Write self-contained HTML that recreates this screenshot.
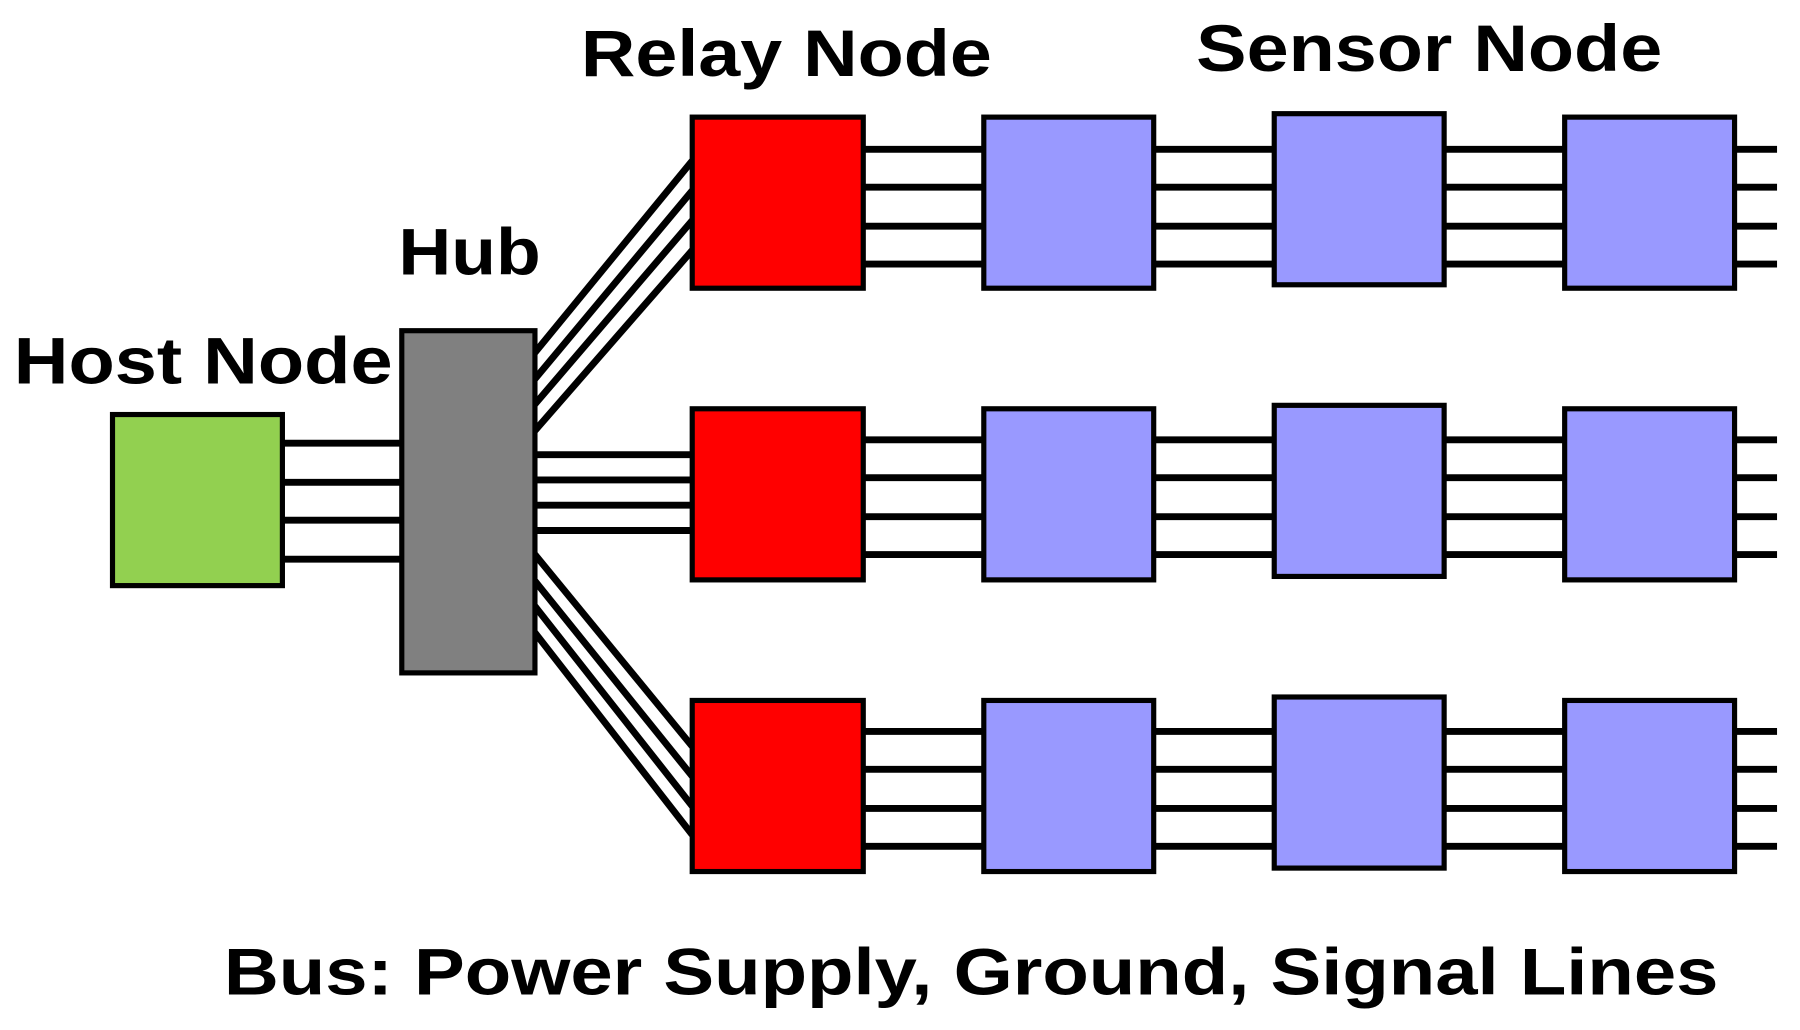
<!DOCTYPE html>
<html><head><meta charset="utf-8"><style>html,body{margin:0;padding:0;background:#fff;}svg{display:block}</style></head>
<body>
<svg width="1800" height="1030" viewBox="0 0 1568 897" preserveAspectRatio="none" xmlns="http://www.w3.org/2000/svg">
<g stroke="#000" stroke-width="6" fill="none">
<line x1="246" y1="386" x2="350" y2="386"/><line x1="246" y1="420" x2="350" y2="420"/><line x1="246" y1="453" x2="350" y2="453"/><line x1="246" y1="487" x2="350" y2="487"/>
<line x1="466" y1="307" x2="603" y2="140"/><line x1="466" y1="330" x2="603" y2="166"/><line x1="466" y1="352" x2="603" y2="192"/><line x1="466" y1="375" x2="603" y2="218"/>
<line x1="466" y1="396" x2="603" y2="396"/><line x1="466" y1="418" x2="603" y2="418"/><line x1="466" y1="440" x2="603" y2="440"/><line x1="466" y1="462" x2="603" y2="462"/>
<line x1="466" y1="483" x2="603" y2="650"/><line x1="466" y1="506" x2="603" y2="676"/><line x1="466" y1="528" x2="603" y2="702"/><line x1="466" y1="551" x2="603" y2="727"/>
<g><line x1="752" y1="130" x2="1548" y2="130"/><line x1="752" y1="163" x2="1548" y2="163"/><line x1="752" y1="197" x2="1548" y2="197"/><line x1="752" y1="230" x2="1548" y2="230"/></g>
<g transform="translate(0,253)"><line x1="752" y1="130" x2="1548" y2="130"/><line x1="752" y1="163" x2="1548" y2="163"/><line x1="752" y1="197" x2="1548" y2="197"/><line x1="752" y1="230" x2="1548" y2="230"/></g>
<g transform="translate(0,507)"><line x1="752" y1="130" x2="1548" y2="130"/><line x1="752" y1="163" x2="1548" y2="163"/><line x1="752" y1="197" x2="1548" y2="197"/><line x1="752" y1="230" x2="1548" y2="230"/></g>
</g>
<g stroke="#000" stroke-width="4.5">
<rect x="98" y="361" width="148" height="149" fill="#92d050"/>
<rect x="350" y="288" width="116" height="298" fill="#808080"/>
<rect x="603" y="102" width="149" height="149" fill="#ff0000"/>
<rect x="603" y="356" width="149" height="149" fill="#ff0000"/>
<rect x="603" y="610" width="149" height="149" fill="#ff0000"/>
<rect x="857" y="102" width="148" height="149" fill="#9999ff"/>
<rect x="1110" y="99" width="148" height="149" fill="#9999ff"/>
<rect x="1363" y="102" width="148" height="149" fill="#9999ff"/>
<rect x="857" y="356" width="148" height="149" fill="#9999ff"/>
<rect x="1110" y="353" width="148" height="149" fill="#9999ff"/>
<rect x="1363" y="356" width="148" height="149" fill="#9999ff"/>
<rect x="857" y="610" width="148" height="149" fill="#9999ff"/>
<rect x="1110" y="607" width="148" height="149" fill="#9999ff"/>
<rect x="1363" y="610" width="148" height="149" fill="#9999ff"/>
</g>
<g font-family="Liberation Sans, Arial, sans-serif" font-weight="bold" font-size="57" fill="#000">
<text x="506" y="66" textLength="358" lengthAdjust="spacingAndGlyphs">Relay Node</text>
<text x="1042" y="62" textLength="406" lengthAdjust="spacingAndGlyphs">Sensor Node</text>
<text x="347" y="239" textLength="124" lengthAdjust="spacingAndGlyphs">Hub</text>
<text x="12" y="334" textLength="330" lengthAdjust="spacingAndGlyphs">Host Node</text>
<text x="195" y="866" textLength="1302" lengthAdjust="spacingAndGlyphs">Bus: Power Supply, Ground, Signal Lines</text>
</g>
</svg>
</body></html>
